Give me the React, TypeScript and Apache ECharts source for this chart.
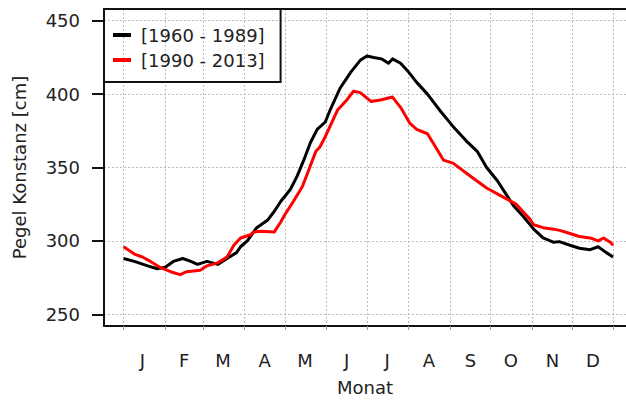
import React, { useEffect, useRef } from "react";
import * as echarts from "echarts";

const monthLabels = ["J", "F", "M", "A", "M", "J", "J", "A", "S", "O", "N", "D"];
const monthMidDays = [15, 46, 75, 106, 136, 167, 197, 228, 259, 289, 320, 350];
const monthStartDays = [1, 32, 60, 91, 121, 152, 182, 213, 244, 274, 305, 335, 365];
const yTicks = [250, 300, 350, 400, 450];
const seriesNames = ["[1960 - 1989]", "[1990 - 2013]"];

// 1960 - 1989 (black)
const days1 = [1, 9, 19, 26, 32, 38, 45, 51, 56, 63, 71, 78, 85, 88, 93, 100, 108, 113, 118, 125, 130, 135, 140, 145, 151, 155, 162, 170, 177, 182, 187, 193, 198, 201, 207, 213, 219, 227, 237, 246, 256, 264, 271, 279, 286, 291, 298, 306, 313, 321, 325, 333, 340, 348, 354, 360, 365];
const vals1 = [288, 286, 283, 281, 282, 286, 288, 286, 284, 286, 284, 288, 292, 296, 300, 309, 314, 320, 327, 335, 344, 355, 367, 376, 381, 390, 404, 415, 423, 426, 425, 424, 421, 424, 421, 415, 408, 400, 388, 378, 368, 361, 350, 341, 331, 324, 317, 308, 302, 299, 299.5, 297, 295, 294, 296, 292, 289];

// 1990 - 2013 (red)
const days2 = [1, 9, 15, 21, 28, 36, 43, 48, 58, 63, 71, 78, 83, 88, 95, 98, 103, 113, 118, 121, 126, 134, 139, 144, 147, 151, 156, 160, 167, 172, 177, 185, 192, 201, 207, 214, 219, 227, 231, 239, 246, 259, 271, 281, 293, 303, 306, 313, 321, 326, 333, 340, 348, 354, 358, 363, 365];
const vals2 = [296, 291, 289, 286, 282, 279, 277, 279, 280, 283, 285, 289, 297, 302, 304, 306, 306.5, 306, 313, 318, 325, 337, 349, 361, 364, 371, 381, 389, 396, 402, 401, 395, 396, 398, 391, 380, 376, 373, 367, 355, 353, 344, 336, 331, 325, 315, 311, 309, 308, 307, 305, 303, 302, 300, 302, 299, 297];

const X_MIN = -13.56;
const X_MAX = 374.66;
const FONT = "DejaVu Sans";
const TEXT_COLOR = "#222";
const FRAME = "#111";
const GRID_LINE = { color: "#bdbdbd", width: 1, type: [2, 2] as any };

export default function App() {
  const ref = useRef<HTMLDivElement>(null);

  useEffect(() => {
    if (!ref.current) return;
    const chart = echarts.init(ref.current, undefined, { renderer: "svg" });
    const option: any = {
      animation: false,
      backgroundColor: "#ffffff",
      textStyle: { fontFamily: FONT },
      grid: { left: 104, top: 9, right: 0, bottom: 73, containLabel: false },
      legend: {
        orient: "vertical",
        left: 104,
        top: 9,
        data: seriesNames,
        icon: "rect",
        itemWidth: 18,
        itemHeight: 4,
        itemGap: 7,
        padding: [17, 16, 13, 9],
        borderColor: FRAME,
        borderWidth: 2,
        borderRadius: 0,
        textStyle: { fontSize: 18, color: TEXT_COLOR, fontFamily: FONT, padding: [0, 0, 0, 5] },
      },
      xAxis: [
        {
          type: "value",
          min: X_MIN,
          max: X_MAX,
          position: "bottom",
          axisLine: { show: true, onZero: false, lineStyle: { color: FRAME, width: 2 } },
          axisTick: { show: true, customValues: monthStartDays, length: 4, lineStyle: { color: "#999", width: 1 } },
          axisLabel: {
            customValues: monthMidDays,
            formatter: (v: number) => {
              const i = monthMidDays.indexOf(Math.round(v));
              return i >= 0 ? monthLabels[i] : "";
            },
            fontSize: 18,
            color: TEXT_COLOR,
            fontFamily: FONT,
            margin: 25,
          },
          splitLine: { show: true, lineStyle: GRID_LINE },
          name: "Monat",
          nameLocation: "middle",
          nameGap: 52,
          nameTextStyle: { fontSize: 18, color: TEXT_COLOR, fontFamily: FONT },
        },
        {
          type: "value",
          min: X_MIN,
          max: X_MAX,
          position: "top",
          axisLine: { show: true, onZero: false, lineStyle: { color: FRAME, width: 2 } },
          axisTick: { show: false },
          axisLabel: { show: false },
          splitLine: { show: false },
        },
      ],
      yAxis: {
        type: "value",
        min: 242,
        max: 458,
        axisLine: { show: true, onZero: false, lineStyle: { color: FRAME, width: 2 } },
        axisTick: { show: true, customValues: yTicks, length: 12, lineStyle: { color: FRAME, width: 2 } },
        axisLabel: { customValues: yTicks, fontSize: 18, color: TEXT_COLOR, fontFamily: FONT, margin: 24 },
        splitLine: { show: true, lineStyle: GRID_LINE },
        name: "Pegel Konstanz [cm]",
        nameLocation: "middle",
        nameGap: 76,
        nameTextStyle: { fontSize: 18, color: TEXT_COLOR, fontFamily: FONT },
      },
      series: [
        {
          name: seriesNames[0],
          type: "line",
          xAxisIndex: 0,
          data: days1.map((d, i) => [d, vals1[i]]),
          showSymbol: false,
          symbol: "none",
          itemStyle: { color: "#000000" },
          lineStyle: { color: "#000000", width: 3, join: "round" },
        },
        {
          name: seriesNames[1],
          type: "line",
          xAxisIndex: 0,
          data: days2.map((d, i) => [d, vals2[i]]),
          showSymbol: false,
          symbol: "none",
          itemStyle: { color: "#ff0000" },
          lineStyle: { color: "#ff0000", width: 3, join: "round" },
        },
      ],
    };
    chart.setOption(option);
    return () => chart.dispose();
  }, []);

  return (
    <div
      ref={ref}
      style={{ position: "fixed", left: 0, top: 0, width: 626, height: 401 }}
    />
  );
}
